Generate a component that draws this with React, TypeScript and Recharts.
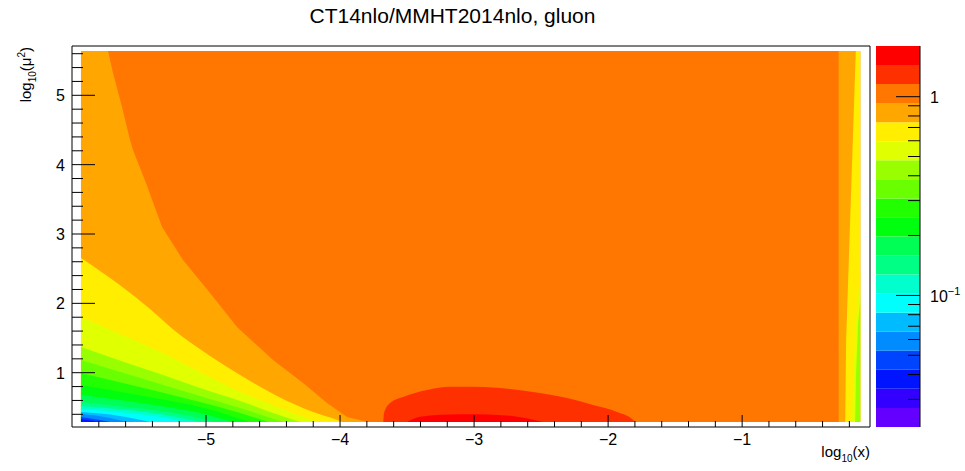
import { Area, ComposedChart, Label, ReferenceArea, XAxis, YAxis } from "recharts";

const FONT = "'Liberation Sans', Arial, Helvetica, sans-serif";

// axis ranges (log10 x, log10 mu^2)
const X_DOMAIN = [-6, -0.046];
const Y_DOMAIN = [0.217, 5.711];
const X_TICKS = [-5.8, -5.6, -5.4, -5.2, -5, -4.8, -4.6, -4.4, -4.2, -4, -3.8, -3.6, -3.4, -3.2, -3, -2.8, -2.6, -2.4, -2.2, -2, -1.8, -1.6, -1.4, -1.2, -1, -0.8, -0.6, -0.4, -0.2];
const Y_TICKS = [0.4, 0.6, 0.8, 1, 1.2, 1.4, 1.6, 1.8, 2, 2.2, 2.4, 2.6, 2.8, 3, 3.2, 3.4, 3.6, 3.8, 4, 4.2, 4.4, 4.6, 4.8, 5, 5.2, 5.4, 5.6];

// contour levels of the ratio (log z), bottom to top, and their colours
const Z_LEVELS = [0.02178, 0.02716, 0.03388, 0.04227, 0.05272, 0.06561, 0.08185, 0.1021, 0.1274, 0.1589, 0.1982, 0.2472, 0.3076, 0.3837, 0.4786, 0.597, 0.7447, 0.929, 1.159, 1.445, 1.799];
const Z_TICKS = [0.03, 0.04, 0.05, 0.06, 0.07, 0.08, 0.09, 0.1, 0.2, 0.3, 0.4, 0.5, 0.6, 0.7, 0.8, 0.9, 1];
const PALETTE = ["#6300FF", "#3300FF", "#0014FF", "#0044FF", "#008BFF", "#00BBFF", "#00FFFC", "#00FFCC", "#00FF85", "#00FF55", "#00FF0E", "#22FF00", "#69FF00", "#99FF00", "#E0FF00", "#FFEE00", "#FFA700", "#FF7700", "#FF3000", "#FF0000"];

// filled region of the histogram
const FULL_PLANE = [[-5.933, 5.639], [-0.119, 5.639]];
const Y_BOTTOM = 0.289;

// left side contours: each level filled below its boundary
const EDGE_16 = [[-5.933, 5.639], [-5.731, 5.639], [-5.694, 5.322], [-5.627, 4.831], [-5.567, 4.355], [-5.545, 4.211], [-5.448, 3.735], [-5.328, 3.101], [-5.172, 2.625], [-4.97, 2.149], [-4.769, 1.659], [-4.5, 1.183], [-4.276, 0.851], [-4.097, 0.563], [-3.948, 0.361], [-3.791, 0.289]];
const EDGE_15 = [[-5.933, 2.654], [-5.664, 2.293], [-5.418, 1.919], [-5.231, 1.601], [-4.97, 1.241], [-4.746, 0.967], [-4.47, 0.664], [-4.201, 0.433], [-4.022, 0.318], [-3.985, 0.289]];
const EDGE_14 = [[-5.933, 1.803], [-5.642, 1.558], [-5.343, 1.298], [-5.045, 1.01], [-4.746, 0.722], [-4.522, 0.549], [-4.336, 0.404], [-4.164, 0.289]];
const EDGE_13 = [[-5.933, 1.371], [-5.59, 1.14], [-5.343, 0.981], [-5.045, 0.779], [-4.746, 0.592], [-4.522, 0.433], [-4.299, 0.289]];
const EDGE_12 = [[-5.933, 1.183], [-5.59, 0.981], [-5.343, 0.837], [-5.045, 0.664], [-4.746, 0.491], [-4.425, 0.289]];
const EDGE_11 = [[-5.933, 0.996], [-5.59, 0.837], [-5.343, 0.722], [-5.045, 0.578], [-4.746, 0.419], [-4.537, 0.289]];
const EDGE_10 = [[-5.933, 0.823], [-5.59, 0.707], [-5.343, 0.621], [-5.045, 0.505], [-4.672, 0.289]];
const EDGE_9 = [[-5.933, 0.678], [-5.59, 0.592], [-5.343, 0.52], [-5.045, 0.419], [-4.806, 0.289]];
const EDGE_8 = [[-5.933, 0.578], [-5.59, 0.505], [-5.343, 0.448], [-5.119, 0.376], [-4.933, 0.289]];
const EDGE_7 = [[-5.933, 0.52], [-5.59, 0.462], [-5.343, 0.404], [-5.045, 0.289]];
const EDGE_6 = [[-5.933, 0.477], [-5.59, 0.419], [-5.343, 0.361], [-5.172, 0.289]];
const EDGE_5 = [[-5.933, 0.433], [-5.642, 0.376], [-5.418, 0.289]];
const EDGE_4 = [[-5.933, 0.404], [-5.716, 0.347], [-5.59, 0.289]];
const EDGE_3 = [[-5.933, 0.361], [-5.791, 0.318], [-5.716, 0.289]];
const EDGE_2 = [[-5.933, 0.332], [-5.791, 0.289]];
const EDGE_1 = [[-5.933, 0.308], [-5.866, 0.289]];

// right side (large x) bands
const RIGHT_16 = [[-0.28, 5.639], [-0.119, 5.639]];
const RIGHT_15 = [[-0.231, 0.289], [-0.224, 1.471], [-0.199, 2.913], [-0.174, 4.355], [-0.152, 5.639], [-0.119, 5.639]];
const RIGHT_14 = [[-0.181, 0.289], [-0.17, 0.996], [-0.15, 1.76], [-0.119, 2.481]];
const RIGHT_13 = [[-0.157, 0.289], [-0.15, 1.0], [-0.135, 1.7], [-0.119, 2.05]];

// low scale bump around x ~ 1e-3
const BUMP_18 = [[-3.677, 0.289], [-3.672, 0.419], [-3.627, 0.563], [-3.53, 0.65], [-3.351, 0.751], [-3.179, 0.798], [-3.03, 0.798], [-2.806, 0.779], [-2.56, 0.722], [-2.306, 0.635], [-2.112, 0.534], [-1.933, 0.433], [-1.813, 0.318], [-1.799, 0.289]];
const BUMP_19 = [[-3.5, 0.289], [-3.403, 0.366], [-3.104, 0.4], [-2.903, 0.397], [-2.679, 0.366], [-2.485, 0.289]];

const CONTOURS = [
  { k: 17, pts: FULL_PLANE, curve: "linear" },
  { k: 16, pts: EDGE_16, curve: "linear" },
  { k: 15, pts: EDGE_15, curve: "monotone" },
  { k: 14, pts: EDGE_14, curve: "monotone" },
  { k: 13, pts: EDGE_13, curve: "monotone" },
  { k: 12, pts: EDGE_12, curve: "monotone" },
  { k: 11, pts: EDGE_11, curve: "monotone" },
  { k: 10, pts: EDGE_10, curve: "monotone" },
  { k: 9, pts: EDGE_9, curve: "monotone" },
  { k: 8, pts: EDGE_8, curve: "monotone" },
  { k: 7, pts: EDGE_7, curve: "monotone" },
  { k: 6, pts: EDGE_6, curve: "monotone" },
  { k: 5, pts: EDGE_5, curve: "monotone" },
  { k: 4, pts: EDGE_4, curve: "monotone" },
  { k: 3, pts: EDGE_3, curve: "monotone" },
  { k: 2, pts: EDGE_2, curve: "linear" },
  { k: 1, pts: EDGE_1, curve: "linear" },
  { k: 16, pts: RIGHT_16, curve: "linear" },
  { k: 15, pts: RIGHT_15, curve: "linear" },
  { k: 14, pts: RIGHT_14, curve: "linear" },
  { k: 13, pts: RIGHT_13, curve: "linear" },
  { k: 18, pts: BUMP_18, curve: "monotone" },
  { k: 19, pts: BUMP_19, curve: "monotone" },
];

const isInt = (v: number) => Math.abs(v - Math.round(v)) < 1e-6;
const minus = (v: number) => (v < 0 ? "\u2212" + Math.abs(Math.round(v)) : String(Math.round(v)));

function XTick({ x, y, payload }: any) {
  const major = isInt(payload.value);
  return (
    <g>
      <line x1={x} x2={x} y1={y} y2={y - (major ? 12 : 6)} stroke="#000" />
      {major && (
        <text x={x} y={y + 18} textAnchor="middle" fontSize={16} fill="#000">
          {minus(payload.value)}
        </text>
      )}
    </g>
  );
}

function YTick({ x, y, payload }: any) {
  const major = isInt(payload.value);
  return (
    <g>
      <line x1={x} x2={x + (major ? 23 : 11)} y1={y} y2={y} stroke="#000" />
      {major && (
        <text x={x - 7} y={y + 6} textAnchor="end" fontSize={16} fill="#000">
          {minus(payload.value)}
        </text>
      )}
    </g>
  );
}

function ZTick({ x, y, payload }: any) {
  const v = payload.value;
  const one = Math.abs(v - 1) < 1e-9;
  const tenth = Math.abs(v - 0.1) < 1e-9;
  const major = one || tenth;
  return (
    <g>
      <line x1={x - (major ? 24 : 12)} x2={x} y1={y} y2={y} stroke="#000" />
      {one && (
        <text x={x + 10} y={y + 6} fontSize={16} fill="#000">1</text>
      )}
      {tenth && (
        <text x={x + 10} y={y + 7} fontSize={16} fill="#000">
          10<tspan dy={-7} fontSize={11}>{"\u22121"}</tspan>
        </text>
      )}
    </g>
  );
}

function XTitle({ viewBox }: any) {
  const right = viewBox.x + viewBox.width;
  return (
    <text x={right} y={457} textAnchor="end" fontSize={15} fill="#000">
      log<tspan dy={5} fontSize={10}>10</tspan>
      <tspan dy={-5}>(x)</tspan>
    </text>
  );
}

function YTitle() {
  return (
    <text x={31} y={47} textAnchor="end" fontSize={15} fill="#000" transform="rotate(-90, 31, 47)">
      log<tspan dy={5} fontSize={10}>10</tspan>
      <tspan dy={-5}>(μ</tspan>
      <tspan dy={-6} fontSize={10}>2</tspan>
      <tspan dy={6}>)</tspan>
    </text>
  );
}

function ContourPlot() {
  return (
    <ComposedChart width={965} height={471} margin={{ top: 46, right: 95, bottom: 0, left: 0 }}>
      <XAxis
        type="number"
        dataKey="x"
        domain={X_DOMAIN}
        ticks={X_TICKS}
        interval={0}
        allowDataOverflow
        height={44}
        tickSize={0}
        tickMargin={0}
        axisLine={false}
        tick={<XTick />}
      >
        <Label content={<XTitle />} />
      </XAxis>
      <YAxis
        type="number"
        dataKey="y"
        domain={Y_DOMAIN}
        ticks={Y_TICKS}
        interval={0}
        allowDataOverflow
        width={72}
        tickSize={0}
        tickMargin={0}
        axisLine={false}
        tick={<YTick />}
      >
        <Label content={<YTitle />} />
      </YAxis>
      {CONTOURS.map((c, i) => (
        <Area
          key={i}
          data={c.pts.map(([x, y]) => ({ x, y }))}
          dataKey="y"
          type={c.curve as any}
          baseValue={Y_BOTTOM}
          stroke="none"
          fill={PALETTE[c.k]}
          fillOpacity={1}
          dot={false}
          activeDot={false}
          isAnimationActive={false}
        />
      ))}
      <ReferenceArea
        x1={X_DOMAIN[0]}
        x2={X_DOMAIN[1]}
        y1={Y_DOMAIN[0]}
        y2={Y_DOMAIN[1]}
        fill="none"
        stroke="#000"
        strokeWidth={1}
        ifOverflow="visible"
      />
    </ComposedChart>
  );
}

function ColorScale() {
  return (
    <ComposedChart width={89} height={471} margin={{ top: 46, right: 0, bottom: 44, left: 0 }}>
      <XAxis type="number" dataKey="x" domain={[0, 1]} hide />
      <YAxis
        type="number"
        dataKey="z"
        scale="log"
        orientation="right"
        domain={[Z_LEVELS[0], Z_LEVELS[Z_LEVELS.length - 1]]}
        ticks={Z_TICKS}
        interval={0}
        allowDataOverflow
        width={45}
        tickSize={0}
        tickMargin={0}
        axisLine={{ stroke: "#000" }}
        tick={<ZTick />}
      />
      {PALETTE.map((color, i) => (
        <Area
          key={i}
          data={[
            { x: 0, z: Z_LEVELS[i + 1] },
            { x: 1, z: Z_LEVELS[i + 1] },
          ]}
          dataKey="z"
          type="linear"
          baseValue={Z_LEVELS[i]}
          stroke="none"
          fill={color}
          fillOpacity={1}
          dot={false}
          activeDot={false}
          isAnimationActive={false}
        />
      ))}
    </ComposedChart>
  );
}

export default function App() {
  return (
    <div style={{ position: "absolute", left: 0, top: 0, width: 965, height: 471, background: "#fff", fontFamily: FONT }}>
      <div style={{ position: "absolute", left: 0, top: 5, width: 905, textAlign: "center", fontSize: 21, lineHeight: "21px", color: "#000" }}>
        CT14nlo/MMHT2014nlo, gluon
      </div>
      <div style={{ position: "absolute", left: 0, top: 0 }}>
        <ContourPlot />
      </div>
      <div style={{ position: "absolute", left: 876, top: 0 }}>
        <ColorScale />
      </div>
    </div>
  );
}
